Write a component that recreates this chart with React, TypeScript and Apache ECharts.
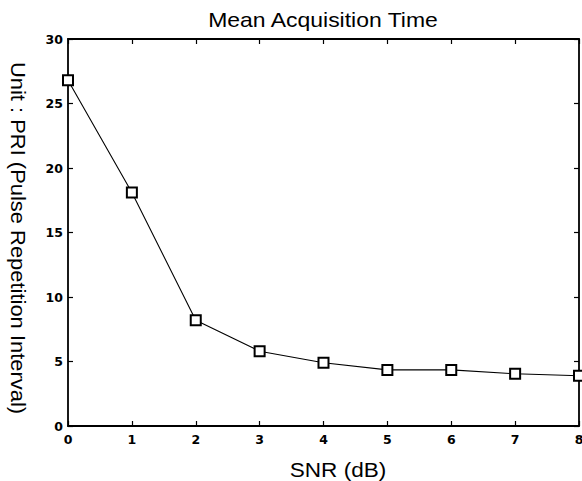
import React, { useEffect, useRef } from "react";
import * as echarts from "echarts";

const snr = [0, 1, 2, 3, 4, 5, 6, 7, 8];
const meanTime = [26.8, 18.1, 8.2, 5.8, 4.9, 4.35, 4.35, 4.05, 3.9];
const xTicks = [0, 1, 2, 3, 4, 5, 6, 7, 8];
const yTicks = [0, 5, 10, 15, 20, 25, 30];

const FONT = "Liberation Sans, Arial, sans-serif";
const TICK_FONT = "DejaVu Sans, sans-serif";

export default function App() {
  const ref = useRef<HTMLDivElement>(null);
  useEffect(() => {
    if (!ref.current) return;
    const chart = echarts.init(ref.current, undefined, { renderer: "svg" });
    const axisCommon = {
      type: "value" as const,
      axisLine: { show: true, onZero: false, lineStyle: { color: "#000", width: 1.8 } },
      axisTick: { show: true, inside: true, length: 5, lineStyle: { color: "#000", width: 1.2 } },
      splitLine: { show: false },
    };
    const labelCommon = {
      fontFamily: TICK_FONT,
      fontSize: 12.5,
      fontWeight: "bold",
      color: "#000",
      showMinLabel: true,
      showMaxLabel: true,
      hideOverlap: false,
    };
    chart.setOption({
      animation: false,
      backgroundColor: "#fff",
      grid: { left: 68, right: 3, top: 39, bottom: 55, outerBoundsMode: "none", containLabel: false },
      graphic: [
        {
          type: "text",
          x: 323,
          y: 20,
          scaleX: 1.12,
          style: {
            text: "Mean Acquisition Time",
            fontFamily: FONT,
            fontSize: 20.5,
            fill: "#000",
            align: "center",
            verticalAlign: "middle",
          },
        },
        {
          type: "text",
          x: 338,
          y: 470,
          scaleX: 1.1,
          style: {
            text: "SNR (dB)",
            fontFamily: FONT,
            fontSize: 20.5,
            fill: "#000",
            align: "center",
            verticalAlign: "middle",
          },
        },
        {
          type: "text",
          x: 18,
          y: 238,
          rotation: -Math.PI / 2,
          scaleX: 1.07,
          style: {
            text: "Unit : PRI (Pulse Repetition Interval)",
            fontFamily: FONT,
            fontSize: 20.5,
            fill: "#000",
            align: "center",
            verticalAlign: "middle",
          },
        },
      ],
      xAxis: [
        {
          ...axisCommon,
          position: "bottom",
          min: 0,
          max: 8,
          interval: 1,
          axisLabel: {
            ...labelCommon,
            margin: 7,
            formatter: (v: number) => (xTicks.includes(v) ? String(v) : ""),
          },
        },
        {
          ...axisCommon,
          position: "top",
          min: 0,
          max: 8,
          interval: 1,
          axisLabel: { show: false },
        },
      ],
      yAxis: [
        {
          ...axisCommon,
          position: "left",
          min: 0,
          max: 30,
          interval: 5,
          axisLabel: {
            ...labelCommon,
            margin: 5,
            formatter: (v: number) => (yTicks.includes(v) ? String(v) : ""),
          },
        },
        {
          ...axisCommon,
          position: "right",
          min: 0,
          max: 30,
          interval: 5,
          axisLabel: { show: false },
        },
      ],
      series: [
        {
          type: "line",
          data: snr.map((x, i) => [x, meanTime[i]]),
          symbol: "emptyRect",
          symbolSize: 10,
          lineStyle: { color: "#000", width: 1.1 },
          itemStyle: { color: "#000", borderColor: "#000", borderWidth: 1.5 },
        },
      ],
    });
    return () => chart.dispose();
  }, []);
  return (
    <div
      ref={ref}
      style={{ position: "absolute", left: 0, top: 0, width: 582, height: 481 }}
    />
  );
}
